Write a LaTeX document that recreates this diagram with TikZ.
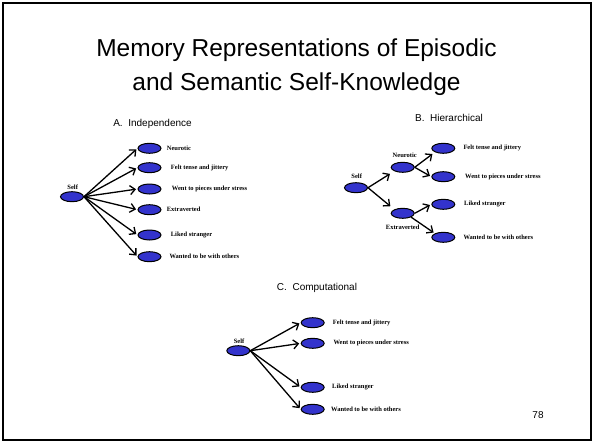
\documentclass[tikz,border=0pt]{standalone}
\usepackage{fontspec}
\setmainfont{Liberation Sans}
\newfontfamily\itemfont{Liberation Serif}
\usetikzlibrary{shapes.geometric,arrows.meta}
\definecolor{nodeblue}{RGB}{51,51,204}
\tikzset{
  blob/.style={ellipse, draw=black, line width=1pt, fill=nodeblue, minimum width=23pt, minimum height=10pt, inner sep=0pt},
  item/.style={anchor=west, inner sep=0pt, font=\itemfont\bfseries\fontsize{6.5}{7}\selectfont},
  selflbl/.style={inner sep=0pt, font=\itemfont\bfseries\fontsize{6.5}{7}\selectfont},
  arr/.style={-{Straight Barb[length=5pt,width=9pt]}, line width=1.3pt, shorten >=1.5pt},
  panel/.style={inner sep=0pt, font=\fontsize{10}{12}\selectfont}
}
\begin{document}
\begin{tikzpicture}[x=1pt,y=-1pt]
\useasboundingbox (0,0) rectangle (593,444);
\draw[line width=2pt] (3,3) rectangle (591,440);
\node[align=center, inner sep=0pt, font=\fontsize{24.5}{34}\selectfont] (title) at (296.5,67)
  {Memory Representations of Episodic\\and Semantic Self-Knowledge};
\node[inner sep=0pt, font=\fontsize{10}{12}\selectfont] (pnum) at (538,415) {78};

% A. Independence
\node[panel] (titleA) at (152.5,124) {A.\ \ Independence};
\node[blob] (selfA) at (72,196.7) {};
\node[selflbl] (selfAl) at (72.7,187.7) {Self};
\node[blob] (a1) at (149.5,148.3) {};
\node[blob] (a2) at (149.5,167.7) {};
\node[blob] (a3) at (149.5,189) {};
\node[blob] (a4) at (149.5,209.7) {};
\node[blob] (a5) at (149.5,235) {};
\node[blob] (a6) at (149.5,256.7) {};
\node[item] (a1l) at (166.7,148.3) {Neurotic};
\node[item] (a2l) at (170.7,167.7) {Felt tense and jittery};
\node[item] (a3l) at (171.7,189) {Went to pieces under stress};
\node[item] (a4l) at (166.7,209.7) {Extraverted};
\node[item] (a5l) at (170.7,235) {Liked stranger};
\node[item] (a6l) at (169.3,256.7) {Wanted to be with others};
\draw[arr] (selfA.east) -- (a1.west);
\draw[arr] (selfA.east) -- (a2.west);
\draw[arr] (selfA.east) -- (a3.west);
\draw[arr] (selfA.east) -- (a4.west);
\draw[arr] (selfA.east) -- (a5.west);
\draw[arr] (selfA.east) -- (a6.west);

% B. Hierarchical
\node[panel] (titleB) at (449,118) {B.\ \ Hierarchical};
\node[blob] (selfB) at (356,187.7) {};
\node[selflbl] (selfBl) at (356.7,176.7) {Self};
\node[blob] (neur) at (402.7,167.3) {};
\node[selflbl] (neurl) at (404.7,155) {Neurotic};
\node[blob] (extra) at (402.7,213.3) {};
\node[selflbl] (extral) at (402.7,227.3) {Extraverted};
\node[blob] (b1) at (443.3,148.3) {};
\node[blob] (b2) at (443.3,176.7) {};
\node[blob] (b3) at (443.3,204.3) {};
\node[blob] (b4) at (443.3,237.3) {};
\node[item] (b1l) at (463.3,148.3) {Felt tense and jittery};
\node[item] (b2l) at (465,176.7) {Went to pieces under stress};
\node[item] (b3l) at (464,204.3) {Liked stranger};
\node[item] (b4l) at (463.3,237.3) {Wanted to be with others};
\draw[arr, shorten >=5pt] (selfB.east) -- (neur.south west);
\draw[arr, shorten >=5pt] (selfB.east) -- (extra.north west);
\draw[arr, shorten >=3pt] (neur.east) -- (b1.south west);
\draw[arr] (neur.east) -- (b2.west);
\draw[arr] (extra.east) -- (b3.west);
\draw[arr] (extra.south east) -- (b4.north west);

% C. Computational
\node[panel] (titleC) at (317,288) {C.\ \ Computational};
\node[blob] (selfC) at (238.3,350.7) {};
\node[selflbl] (selfCl) at (239,341.7) {Self};
\node[blob] (c1) at (312.7,322.7) {};
\node[blob] (c2) at (312.7,343.3) {};
\node[blob] (c3) at (312.7,387.3) {};
\node[blob] (c4) at (312.7,409.3) {};
\node[item] (c1l) at (332.7,322.7) {Felt tense and jittery};
\node[item] (c2l) at (333.3,343.3) {Went to pieces under stress};
\node[item] (c3l) at (332,387.3) {Liked stranger};
\node[item] (c4l) at (331,409.3) {Wanted to be with others};
\draw[arr] (selfC.east) -- (c1.west);
\draw[arr] (selfC.east) -- (c2.west);
\draw[arr] (selfC.east) -- (c3.west);
\draw[arr] (selfC.east) -- (c4.west);
\end{tikzpicture}
\end{document}
